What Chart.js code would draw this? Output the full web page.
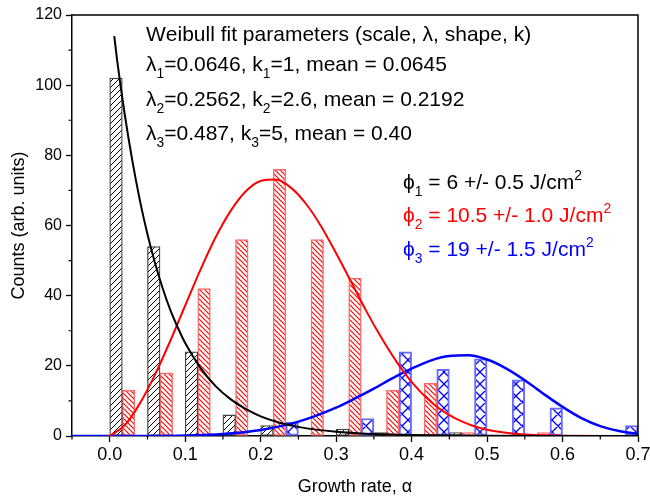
<!DOCTYPE html>
<html>
<head>
<meta charset="utf-8">
<script src="https://cdn.jsdelivr.net/npm/chart.js@4"></script>
<style>
  html, body { margin: 0; padding: 0; background: #fff; }
  #wrap { width: 650px; height: 498px; }
</style>
</head>
<body>
<div id="wrap"><canvas id="chart"></canvas></div>
<script>
// histogram groups (bin centres, width 0.05)
const GROUP_CENTERS = [0.025, 0.075, 0.125, 0.175, 0.225, 0.275, 0.325, 0.375, 0.425, 0.475, 0.525, 0.575, 0.625, 0.675];
const COUNTS_PHI1 = [102, 54, 24, 6, 3, 0, 2, 1, 0, 1, 0, 0, 0, 0];
const COUNTS_PHI2 = [13, 18, 42, 56, 76, 56, 45, 13, 15, 1, 0, 1, 0, 0];
const COUNTS_PHI3 = [0, 0, 0, 0, 4, 0, 5, 24, 19, 22, 16, 8, 0, 3];

// Weibull fit curves
const FIT1_X = [0.006, 0.01, 0.02, 0.03, 0.04, 0.05, 0.06, 0.07, 0.08, 0.09, 0.10, 0.12, 0.14, 0.16, 0.18, 0.20, 0.225, 0.25, 0.30, 0.35, 0.40, 0.50, 0.60, 0.70];
const FIT1_Y = [114, 106.8, 91.5, 78.4, 67.1, 57.5, 49.3, 42.2, 36.1, 31.0, 26.5, 19.5, 14.3, 10.5, 7.7, 5.6, 3.8, 2.6, 1.2, 0.55, 0.25, 0.05, 0.01, 0];
const FIT2_X = [0, 0.02, 0.04, 0.06, 0.08, 0.10, 0.12, 0.14, 0.16, 0.18, 0.20, 0.22, 0.24, 0.26, 0.28, 0.30, 0.32, 0.34, 0.36, 0.38, 0.40, 0.42, 0.44, 0.46, 0.48, 0.50, 0.55, 0.60, 0.70];
const FIT2_Y = [0, 3.1, 9.3, 17.5, 27.0, 37.2, 47.3, 56.5, 64.1, 69.7, 72.7, 73.1, 70.8, 66.2, 59.8, 52.1, 43.9, 35.6, 28.0, 21.2, 15.4, 10.8, 7.3, 4.8, 3.0, 1.8, 0.4, 0.1, 0];
const FIT3_X = [-0.05, 0, 0.05, 0.10, 0.15, 0.20, 0.25, 0.30, 0.325, 0.35, 0.375, 0.40, 0.425, 0.45, 0.475, 0.50, 0.525, 0.55, 0.575, 0.60, 0.625, 0.65, 0.675, 0.70];
const FIT3_Y = [0, 0, 0.01, 0.11, 0.55, 1.7, 4.1, 8.1, 10.7, 13.5, 16.5, 19.2, 21.5, 22.8, 23.0, 21.8, 19.3, 15.9, 12.0, 8.3, 5.1, 2.8, 1.4, 0.6];

const X_TICKS = [0, 0.1, 0.2, 0.3, 0.4, 0.5, 0.6, 0.7];
const X_MINOR = [-0.05, 0.05, 0.15, 0.25, 0.35, 0.45, 0.55, 0.65];
const Y_TICKS = [0, 20, 40, 60, 80, 100, 120];
const Y_MINOR = [10, 30, 50, 70, 90, 110];

const FIT_NOTES = [
  "Weibull fit parameters (scale, λ, shape, k)",
  "λ_1=0.0646, k_1=1, mean = 0.0645",
  "λ_2=0.2562, k_2=2.6, mean = 0.2192",
  "λ_3=0.487, k_3=5, mean = 0.40",
];
const FLUENCE_NOTES = [
  "ϕ_1 = 6 +/- 0.5 J/cm^2",
  "ϕ_2 = 10.5 +/- 1.0 J/cm^2",
  "ϕ_3 = 19 +/- 1.5 J/cm^2",
];
const FLUENCE_COLORS = ["#000000", "#ff0000", "#0000ff"];

const FONT = 'Arial, "Liberation Sans", sans-serif';
const canvas = document.getElementById("chart");
const mainCtx = canvas.getContext("2d");

function makeHatch(color, size, dir, lineWidth) {
  const c = document.createElement("canvas");
  c.width = size;
  c.height = size;
  const g = c.getContext("2d");
  g.fillStyle = "#fff";
  g.fillRect(0, 0, size, size);
  g.strokeStyle = color;
  g.lineWidth = lineWidth;
  g.beginPath();
  if (dir === "up" || dir === "cross") {
    g.moveTo(-1, size + 1); g.lineTo(size + 1, -1);
    g.moveTo(-1, 1); g.lineTo(1, -1);
    g.moveTo(size - 1, size + 1); g.lineTo(size + 1, size - 1);
  }
  if (dir === "down" || dir === "cross") {
    g.moveTo(-1, -1); g.lineTo(size + 1, size + 1);
    g.moveTo(size - 1, -1); g.lineTo(size + 1, 1);
    g.moveTo(-1, size - 1); g.lineTo(1, size + 1);
  }
  g.stroke();
  return mainCtx.createPattern(c, "repeat");
}

function toPoints(xs, ys) {
  return xs.map((x, i) => ({ x, y: ys[i] }));
}

function drawRich(ctx, text, x, y, size) {
  let cx = x;
  for (let i = 0; i < text.length; i++) {
    let ch = text[i];
    let dy = 0;
    let fs = size;
    if ((ch === "_" || ch === "^") && i + 1 < text.length) {
      dy = ch === "_" ? size * 0.32 : -size * 0.42;
      fs = size * 0.66;
      ch = text[++i];
    }
    ctx.font = `${fs}px ${FONT}`;
    ctx.fillText(ch, cx, y + dy);
    cx += ctx.measureText(ch).width;
  }
}

const extrasPlugin = {
  id: "figure-extras",
  afterDraw(chart) {
    const { ctx, chartArea: a, scales } = chart;
    ctx.save();
    ctx.strokeStyle = "#000";
    ctx.lineWidth = 1.5;
    // frame top and right
    ctx.beginPath();
    ctx.moveTo(a.left, a.top);
    ctx.lineTo(a.right, a.top);
    ctx.lineTo(a.right, a.bottom);
    ctx.stroke();
    // minor ticks
    ctx.lineWidth = 1.2;
    ctx.beginPath();
    X_MINOR.forEach((v) => {
      const px = scales.x.getPixelForValue(v);
      ctx.moveTo(px, a.bottom);
      ctx.lineTo(px, a.bottom + 3.5);
    });
    Y_MINOR.forEach((v) => {
      const py = scales.y.getPixelForValue(v);
      ctx.moveTo(a.left - 3.5, py);
      ctx.lineTo(a.left, py);
    });
    ctx.stroke();

    // annotation text
    ctx.textBaseline = "alphabetic";
    ctx.textAlign = "left";
    ctx.fillStyle = "#000";
    const noteBase = [41, 71, 106, 140];
    FIT_NOTES.forEach((line, i) => drawRich(ctx, line, a.left + 74, noteBase[i], 21));
    const phiBase = [189, 222, 256];
    FLUENCE_NOTES.forEach((line, i) => {
      ctx.fillStyle = FLUENCE_COLORS[i];
      drawRich(ctx, line, a.left + 331, phiBase[i], 21);
    });
    ctx.restore();
  },
};

const barCommon = {
  type: "bar",
  order: 2,
  categoryPercentage: 1,
  barPercentage: 1,
  borderSkipped: false,
};

new Chart(canvas, {
  type: "bar",
  data: {
    datasets: [
      {
        type: "line",
        order: 0,
        data: toPoints(FIT1_X, FIT1_Y),
        borderColor: "#000",
        borderWidth: 2,
        pointRadius: 0,
        cubicInterpolationMode: "monotone",
      },
      {
        type: "line",
        order: 0,
        data: toPoints(FIT2_X, FIT2_Y),
        borderColor: "#ff0000",
        borderWidth: 2,
        pointRadius: 0,
        cubicInterpolationMode: "monotone",
      },
      {
        type: "line",
        order: 0,
        data: toPoints(FIT3_X, FIT3_Y),
        borderColor: "#0000ff",
        borderWidth: 2.5,
        pointRadius: 0,
        cubicInterpolationMode: "monotone",
      },
      {
        ...barCommon,
        data: toPoints(GROUP_CENTERS, COUNTS_PHI1),
        backgroundColor: makeHatch("#000", 6, "up", 1),
        borderColor: "#444",
        borderWidth: 1.3,
      },
      {
        ...barCommon,
        data: toPoints(GROUP_CENTERS, COUNTS_PHI2),
        backgroundColor: makeHatch("#ff0000", 5, "down", 1.1),
        borderColor: "#ff6a6a",
        borderWidth: 1.5,
      },
      {
        ...barCommon,
        data: toPoints(GROUP_CENTERS, COUNTS_PHI3),
        backgroundColor: makeHatch("#0000ff", 12, "cross", 1.3),
        borderColor: "#6a6aff",
        borderWidth: 2,
      },
    ],
  },
  options: {
    responsive: true,
    maintainAspectRatio: false,
    animation: false,
    layout: { padding: { top: 15, right: 12, left: 0, bottom: 0 } },
    plugins: {
      legend: { display: false },
      tooltip: { enabled: false },
    },
    scales: {
      x: {
        type: "linear",
        min: -0.05,
        max: 0.7,
        offset: false,
        afterBuildTicks: (scale) => {
          scale.ticks = X_TICKS.map((value) => ({ value }));
        },
        afterFit: (scale) => {
          scale.height = 62;
          scale.paddingLeft = 0;
          scale.paddingRight = 0;
        },
        ticks: {
          color: "#000",
          font: { family: FONT, size: 18 },
          padding: 2,
          maxRotation: 0,
          autoSkip: false,
          callback: (v) => Number(v).toFixed(1),
        },
        grid: { drawOnChartArea: false, offset: false, tickLength: 6, color: "#000", tickWidth: 1.3 },
        border: { color: "#000", width: 1.5 },
        title: {
          display: true,
          text: "Growth rate, α",
          color: "#000",
          font: { family: FONT, size: 18 },
          padding: { top: 0, bottom: 0 },
        },
      },
      y: {
        min: 0,
        max: 120,
        afterBuildTicks: (scale) => {
          scale.ticks = Y_TICKS.map((value) => ({ value }));
        },
        afterFit: (scale) => {
          scale.width = 72;
          scale.paddingTop = 0;
          scale.paddingBottom = 0;
        },
        ticks: {
          color: "#000",
          font: { family: FONT, size: 16 },
          padding: 4,
        },
        grid: { drawOnChartArea: false, tickLength: 6, color: "#000", tickWidth: 1.3 },
        border: { color: "#000", width: 1.5 },
        title: {
          display: true,
          text: "Counts (arb. units)",
          color: "#000",
          font: { family: FONT, size: 18 },
          padding: { top: 8, bottom: 0 },
        },
      },
    },
  },
  plugins: [extrasPlugin],
});
</script>
</body>
</html>
